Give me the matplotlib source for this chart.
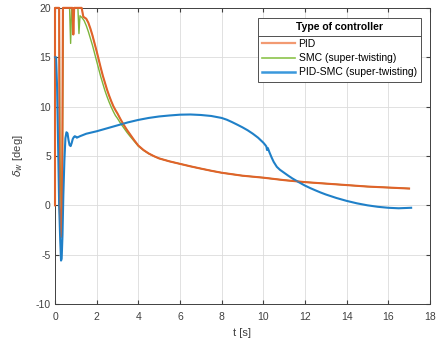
import matplotlib
matplotlib.use("Agg")
import matplotlib.pyplot as plt
from matplotlib.lines import Line2D

plt.rcParams['font.family'] = ['Liberation Sans', 'DejaVu Sans']
plt.rcParams['axes.unicode_minus'] = False

# ---------------- data ----------------
t_pid = [0, 0, 0.2, 0.22, 0.29, 0.34, 0.38, 0.84, 0.88, 0.92, 1.28, 1.36, 1.5, 1.6,
         1.7, 1.8, 1.9, 2.0, 2.1, 2.2, 2.3, 2.4, 2.5, 2.6, 2.7, 2.8, 2.9, 3.0,
         3.15, 3.3, 3.45, 3.6, 3.8, 4.0, 4.25, 4.5, 4.75, 5.0, 5.5, 6.0, 6.5,
         7.0, 7.5, 8.0, 9.0, 10.0, 11.0, 12.0, 13.0, 14.0, 15.0, 16.0, 17.0]
v_pid = [0, 20, 20, 0, -3.2, 0, 20, 20, 17.3, 20, 20, 19.1, 18.9, 18.5,
         17.9, 17.2, 16.4, 15.6, 14.75, 13.9, 13.1, 12.4, 11.7, 11.1, 10.55, 10.05, 9.65, 9.3,
         8.7, 8.15, 7.65, 7.2, 6.6, 6.05, 5.6, 5.25, 4.98, 4.75, 4.45, 4.2, 3.95,
         3.72, 3.5, 3.3, 3.0, 2.8, 2.55, 2.35, 2.2, 2.05, 1.9, 1.8, 1.7]

t_smc = [0, 0, 0.2, 0.24, 0.3, 0.36, 0.4, 0.7, 0.75, 0.8, 1.1, 1.15, 1.2, 1.3,
         1.4, 1.5, 1.6, 1.7, 1.8, 1.9, 2.0, 2.1, 2.2, 2.3, 2.4, 2.5, 2.6, 2.7,
         2.8, 2.9, 3.0, 3.15, 3.3, 3.45, 3.6, 3.8, 4.0, 4.25, 4.5, 4.75, 5.0,
         5.5, 6.0, 6.5, 7.0, 7.5, 8.0, 9.0, 10.0, 11.0, 12.0, 13.0, 14.0, 15.0, 16.0, 17.0]
v_smc = [0, 20, 20, 5, -1, 5, 20, 20, 16.4, 20, 20, 17.4, 19.2, 19.0,
         18.7, 18.2, 17.6, 16.9, 16.2, 15.4, 14.6, 13.8, 13.0, 12.3, 11.6, 11.0, 10.45, 9.95,
         9.5, 9.1, 8.8, 8.3, 7.85, 7.4, 7.0, 6.5, 6.0, 5.57, 5.23, 4.97, 4.75,
         4.45, 4.2, 3.95, 3.72, 3.5, 3.3, 3.0, 2.8, 2.55, 2.35, 2.2, 2.05, 1.9, 1.8, 1.7]

t_hyb = [0, 0.05, 0.1, 0.15, 0.2, 0.25, 0.29, 0.32, 0.36, 0.4, 0.45, 0.5, 0.55, 0.6,
         0.65, 0.7, 0.75, 0.8, 0.85, 0.9, 0.95, 1.0, 1.05, 1.1, 1.2, 1.5, 2.0, 2.5,
         3.0, 3.5, 4.0, 4.5, 5.0, 5.5, 6.0, 6.5, 7.0, 7.5, 8.0, 8.25, 8.5, 8.75,
         9.0, 9.25, 9.5, 9.75, 10.0, 10.1, 10.15, 10.18, 10.22, 10.3, 10.4, 10.5,
         10.65, 10.8, 11.0, 11.2, 11.4, 11.7, 12.0, 12.25, 12.5, 12.75, 13.0, 13.5,
         14.0, 14.5, 15.0, 15.5, 16.0, 16.5, 17.1]
v_hyb = [15, 15, 12, 6, 0, -3.5, -5.6, -5.4, -3, 1, 4.5, 6.8, 7.4, 7.3,
         6.6, 6.1, 6.0, 6.3, 6.7, 6.9, 7.0, 6.95, 6.85, 6.9, 7.0, 7.25, 7.5, 7.8,
         8.1, 8.4, 8.65, 8.85, 9.0, 9.1, 9.18, 9.2, 9.15, 9.05, 8.85, 8.67, 8.43, 8.17,
         7.9, 7.6, 7.25, 6.85, 6.35, 6.1, 5.95, 5.6, 5.8, 5.35, 4.85, 4.4,
         3.9, 3.6, 3.3, 3.0, 2.72, 2.35, 2.0, 1.75, 1.52, 1.3, 1.1, 0.75,
         0.45, 0.2, 0.0, -0.15, -0.25, -0.3, -0.25]

labels = ['PID', 'SMC (super-twisting)', 'PID-SMC (super-twisting)']
xticks = list(range(0, 19, 2))
yticks = list(range(-10, 21, 5))

# ---------------- figure ----------------
fig = plt.figure(figsize=(4.4, 3.42), dpi=100)
ax = fig.add_axes([0.125, 0.111, 0.852, 0.866])

c_pid, c_smc, c_hyb = '#E0632A', '#7DB43A', '#1F80C8'
ax.plot(t_pid, v_pid, color=c_pid, lw=1.5, zorder=3, clip_on=False)
ax.plot(t_smc, v_smc, color=c_smc, lw=1.0, zorder=2, clip_on=False)
ax.plot(t_hyb, v_hyb, color=c_hyb, lw=1.5, zorder=4, clip_on=False)
ax.plot(t_pid, v_pid, color=c_pid, lw=0.8, alpha=0.5, zorder=5, clip_on=False)

ax.set_xlim(0, 18)
ax.set_ylim(-10, 20)
ax.set_xticks(xticks)
ax.set_yticks(yticks)
ax.tick_params(direction='in', length=3, labelsize=7.5, colors='#404040',
               top=True, right=True, pad=3)
ax.tick_params(axis='x', pad=6)
ax.grid(True, color='#DCDCDC', lw=0.6)
ax.set_axisbelow(True)
for s in ax.spines.values():
    s.set_color('#404040')
    s.set_linewidth(0.7)

ax.set_xlabel('t [s]', fontsize=8, color='#404040', labelpad=4)
ax.set_ylabel(r'$\delta_w$ [deg]', fontsize=8, color='#404040', labelpad=8)

handles = [Line2D([], [], color='#F29A72', lw=1.6),
           Line2D([], [], color='#8CC44C', lw=1.2),
           Line2D([], [], color='#3A98DC', lw=1.8)]
leg = ax.legend(handles, labels, title='Type of controller', loc='upper right',
                bbox_to_anchor=(0.976, 0.966), borderaxespad=0, fontsize=7.5,
                fancybox=False, edgecolor='#505050', framealpha=1,
                handlelength=3.2, handletextpad=0.3, labelspacing=0.4,
                borderpad=0.4)
leg.get_title().set_fontweight('bold')
leg.get_title().set_fontsize(7.5)
leg.get_frame().set_linewidth(0.7)
leg.set_zorder(10)
leg._legend_box.sep = 5

fig.canvas.draw()
r = fig.canvas.get_renderer()
tb = leg.get_title().get_window_extent(r)
t1 = leg.get_texts()[0].get_window_extent(r)
fb = leg.get_frame().get_window_extent(r)
ysep = 0.5 * (tb.y0 + t1.y1)
fig.add_artist(Line2D([fb.x0, fb.x1], [ysep, ysep], transform=None,
                      color='#505050', lw=0.7, zorder=11))

fig.savefig('out.png', dpi=100)
